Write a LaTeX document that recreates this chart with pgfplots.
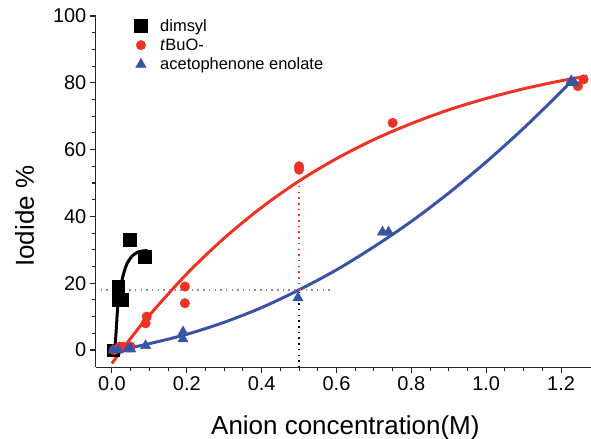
\documentclass[border=0pt]{standalone}
\usepackage{fontspec}
\setmainfont{Liberation Sans}
\usepackage{pgfplots}
\pgfplotsset{compat=1.18}
\usetikzlibrary{calc}
\definecolor{dred}{HTML}{EC3326}
\definecolor{dblue}{HTML}{3A53A4}
\definecolor{dotgray}{HTML}{8C8C8C}

\begin{document}
\begin{tikzpicture}
\begin{axis}[
  scale only axis, width=496pt, height=352pt,
  xmin=-0.043, xmax=1.28, ymin=-5.2, ymax=100,
  axis x line*=bottom, axis y line*=left,
  axis line style={line width=1.2pt,black!85},
  tick style={line width=1.1pt,black!85},
  tick align=outside, major tick length=6pt, minor tick length=3.5pt,
  xtick={0,0.2,...,1.2}, minor x tick num=3,
  ytick={0,20,...,100}, minor y tick num=3,
  xticklabel style={/pgf/number format/.cd,fixed,fixed zerofill,precision=1},
  /pgf/number format/assume math mode=true,
  tick label style={font=\fontsize{20}{24}\selectfont},
  xlabel={Anion concentration(M)}, ylabel={Iodide \%},
  label style={font=\fontsize{26}{30}\selectfont},
  xlabel style={at={(axis description cs:0.504,-0.190)},anchor=base,inner sep=0pt},
  ylabel style={at={(axis description cs:-0.125,0.43)},anchor=base,inner sep=0pt},
  clip=false,
  legend style={at={(axis description cs:0.078,0.997)},anchor=north west,draw=none,fill=none,
    font=\fontsize{16.5}{19.5}\selectfont,row sep=2pt,inner sep=0pt,
    /tikz/every odd column/.style={column sep=11pt}},
  legend cell align=left,
  legend image code/.code={\draw[#1] plot coordinates {(0pt,0pt)};},
]
% fitted curves
\addplot[black,line width=3pt,smooth,forget plot] coordinates {
  (0.008,0)(0.012,7)(0.016,14)(0.02,17.5)(0.025,20)(0.03,22.3)(0.035,24.3)
  (0.04,25.8)(0.05,27.6)(0.06,28.7)(0.07,29.3)(0.08,29.6)(0.095,29.8)};
\addplot[dred,line width=3pt,smooth,forget plot] coordinates {
  (0,-4)(0.05,3.5)(0.1,10.4)(0.2,22.8)(0.3,33.5)(0.4,42.7)(0.5,50.6)(0.6,57.3)
  (0.7,63)(0.8,67.8)(0.9,71.9)(1.0,75.3)(1.1,78.2)(1.2,80.6)(1.27,82)};
\addplot[dblue,line width=3pt,smooth,forget plot] coordinates {
  (0,-0.5)(0.1,1.9)(0.2,4.7)(0.3,8.3)(0.4,12.7)(0.5,18)(0.6,24)(0.7,30.9)
  (0.8,38.5)(0.9,47)(1.0,56.3)(1.1,66.4)(1.2,77.3)(1.235,81.5)};
% guide lines
\addplot[dotgray,line width=1.5pt,dash pattern=on 1.5pt off 4.2pt,forget plot] coordinates {(-0.03,18)(0.585,18)};
\addplot[dred,line width=1.5pt,dash pattern=on 1.5pt off 4.2pt,forget plot] coordinates {(0.5,18)(0.5,51)};
\addplot[black,line width=1.5pt,dash pattern=on 1.5pt off 4.2pt,forget plot] coordinates {(0.5,-5.2)(0.5,18)};
% data
\addplot[only marks,mark=square*,mark size=6.3pt,black] coordinates {
  (0.003,0)(0.017,19)(0.017,15)(0.028,15)(0.048,33)(0.088,28)};
\addlegendentry{dimsyl}
\addplot[only marks,mark=*,mark size=4.8pt,dred,mark options={draw=dred,fill=dred}] coordinates {
  (0.005,0)(0.02,1)(0.03,1)(0.05,1)(0.09,8)(0.093,10)(0.195,19)(0.195,14)
  (0.5,54)(0.5,55)(0.75,68)(1.245,79)(1.26,81)};
\addlegendentry{\textit{t}BuO-}
\addplot[only marks,mark=triangle*,mark size=6pt,dblue,mark options={draw=dblue,fill=dblue}] coordinates {
  (0.003,0)(0.017,0)(0.043,0.3)(0.05,0.3)(0.09,1.3)(0.19,5.4)(0.19,3.3)
  (0.497,15.6)(0.723,35.3)(0.739,35.3)(1.227,80.6)(1.235,80)};
\addlegendentry{acetophenone enolate}
\coordinate (ll) at (rel axis cs:0,0);
\coordinate (ur) at (rel axis cs:1,1);
\end{axis}
\pgfresetboundingbox
\path[use as bounding box] ($(ll)+(-96pt,-71pt)$) rectangle ($(ur)+(0pt,16pt)$);
\end{tikzpicture}
\end{document}
